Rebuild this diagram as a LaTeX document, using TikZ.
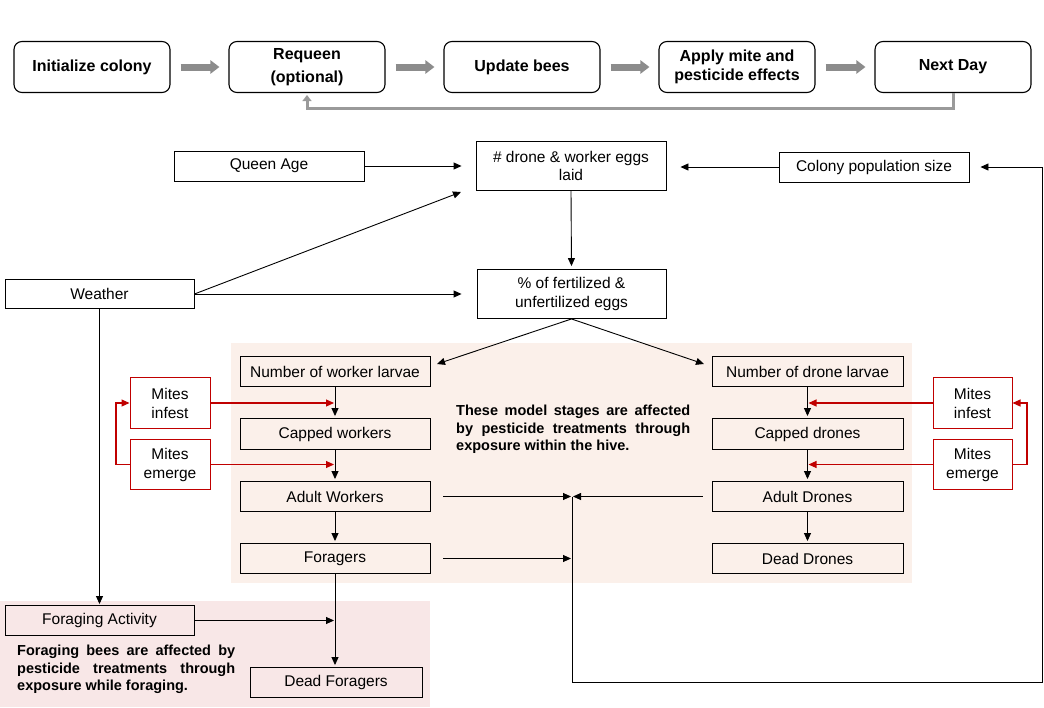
\documentclass[tikz,border=0pt]{standalone}
\usepackage{fontspec}
\setmainfont{Liberation Sans}
\usetikzlibrary{arrows.meta}

\definecolor{hivebg}{HTML}{FBF0EA}
\definecolor{forbg}{HTML}{F8E7E7}
\definecolor{mitered}{HTML}{C00000}
\definecolor{flowgray}{HTML}{8C8C8C}
\definecolor{loopgray}{HTML}{9A9A9A}

\tikzset{
  stepbox/.style={draw, rounded corners=8pt, line width=1.1pt, minimum width=156pt,
    minimum height=51pt, inner sep=0pt, align=center,
    font=\fontsize{16}{18.5}\selectfont\bfseries},
  varbox/.style={draw, line width=0.9pt, inner sep=0pt, align=center,
    minimum width=190pt, minimum height=30pt, font=\fontsize{15.5}{18.5}\selectfont},
  mitebox/.style={varbox, draw=mitered, line width=1pt, minimum width=80pt,
    minimum height=50pt, font=\fontsize{15.5}{19}\selectfont},
  note/.style={inner sep=0pt, align=justify, anchor=north west,
    font=\fontsize{14.5}{17.5}\selectfont\bfseries},
  link/.style={-{Triangle[length=8pt,width=7pt]}, line width=0.9pt},
  redlink/.style={link, draw=mitered, line width=1.1pt},
  bigarrow/.style={draw=flowgray, line width=7pt, -{Triangle[length=9pt,width=13pt]},
    shorten <=10pt, shorten >=9pt},
  loopline/.style={draw=loopgray, line width=3pt, -{Triangle[length=6pt,width=9pt]}}
}

\begin{document}
\begin{tikzpicture}[x=1pt,y=-1pt]
  \fill[white] (0,0) rectangle (1044,707);
  \useasboundingbox (0,0) rectangle (1044,707);

  % shaded zones: in-hive exposure and foraging exposure
  \fill[hivebg] (231,343) rectangle (912,583);
  \fill[forbg] (0,601) rectangle (430,707);

  % daily simulation loop
  \node[stepbox] (init) at (92,67) {Initialize colony};
  \node[stepbox, font=\fontsize{16}{22.5}\selectfont\bfseries] (requeen) at (307,67) {Requeen\\(optional)};
  \node[stepbox] (update) at (522,67) {Update bees};
  \node[stepbox] (apply) at (737,67) {Apply mite and\\pesticide effects};
  \node[stepbox] (next) at (953,67) {Next Day};

  \draw[bigarrow] (init.east) -- (requeen.west);
  \draw[bigarrow] (requeen.east) -- (update.west);
  \draw[bigarrow] (update.east) -- (apply.west);
  \draw[bigarrow] (apply.east) -- (next.west);
  \coordinate (dayback) at (953,108);
  \draw[loopline, shorten >=2pt] (next.south) -- (dayback) -| (requeen.south);

  % egg laying inputs
  \node[varbox] (queen) at (269,166) {Queen Age};
  \node[varbox, minimum height=49pt] (eggs) at (571,166) {\# drone \& worker eggs\\laid};
  \node[varbox] (colony) at (874,167) {Colony population size};
  \node[varbox, minimum width=189pt, minimum height=29pt] (weather) at (99.5,294) {Weather};
  \node[varbox, minimum width=189pt, minimum height=49pt] (fert) at (571.5,294) {\% of fertilized \&\\unfertilized eggs};

  \coordinate (weggs) at (461,192);
  \coordinate (wltip) at (437,364);
  \coordinate (dltip) at (704,364);
  \draw[link, shorten >=14pt] (queen.east) -- (eggs.west);
  \draw[link, shorten >=14pt] (colony.west) -- (eggs.east |- colony.west);
  \draw[link] (weather.east) -- (weggs);
  \draw[link, shorten >=15pt] (weather.east) -- (fert.west |- weather.east);
  \draw[link, shorten >=3pt] (eggs.south) -- (fert.north);
  \draw[link] (fert.south) -- (wltip);
  \draw[link] (fert.south) -- (dltip);

  % worker brood column
  \node[varbox] (wl) at (335,371.5) {Number of worker larvae};
  \node[varbox, minimum height=31pt] (cw) at (335,434) {Capped workers};
  \node[varbox] (aw) at (335,496.5) {Adult Workers};
  \node[varbox] (forg) at (335,558.5) {Foragers};

  % drone brood column
  \node[varbox, minimum width=191pt] (dl) at (807.5,371.5) {Number of drone larvae};
  \node[varbox, minimum width=191pt, minimum height=31pt] (cd) at (807.5,434) {Capped drones};
  \node[varbox, minimum width=191pt] (ad) at (807.5,496.5) {Adult Drones};
  \node[varbox, minimum width=191pt] (dd) at (807.5,558.5) {Dead Drones};

  \draw[link, shorten >=2pt] (wl.south) -- (cw.north);
  \draw[link, shorten >=2pt] (cw.south) -- (aw.north);
  \draw[link, shorten >=2pt] (aw.south) -- (forg.north);
  \draw[link, shorten >=2pt] (dl.south) -- (cd.north);
  \draw[link, shorten >=2pt] (cd.south) -- (ad.north);
  \draw[link, shorten >=2pt] (ad.south) -- (dd.north);

  % varroa mites
  \node[mitebox, minimum height=51pt] (mil) at (170,403) {Mites\\infest};
  \node[mitebox] (mel) at (170,464.5) {Mites\\emerge};
  \node[mitebox, minimum width=79pt, minimum height=51pt] (mir) at (972.5,403) {Mites\\infest};
  \node[mitebox, minimum width=79pt] (mer) at (972.5,464.5) {Mites\\emerge};

  \coordinate (lloop) at (116,464.5);
  \coordinate (rloop) at (1027,464.5);
  \draw[redlink, shorten >=1pt] (mil.east) -- (wl.south |- mil.east);
  \draw[redlink, shorten >=1pt] (mel.east) -- (cw.south |- mel.east);
  \draw[redlink] (mel.west) -- (lloop) |- (mil.west);
  \draw[redlink, shorten >=1pt] (mir.west) -- (dl.south |- mir.west);
  \draw[redlink, shorten >=1pt] (mer.west) -- (cd.south |- mer.west);
  \draw[redlink] (mer.east) -- (rloop) |- (mir.east);

  \node[note, text width=234pt] (hivenote) at (456,405)
    {These model stages are affected\linebreak by pesticide treatments through\linebreak exposure within the hive.};

  % adult bees feed back into colony size
  \coordinate (join) at (572,496.5);
  \coordinate (loopbr) at (1042,682);
  \draw[link, shorten <=13pt, shorten >=1pt] (aw.east) -- (join);
  \draw[link, shorten <=9pt, shorten >=1pt] (ad.west) -- (join);
  \draw[link, shorten <=13pt, shorten >=1pt] (forg.east) -- (join |- forg.east);
  \draw[link, shorten >=11pt] (join) |- (loopbr) |- (colony.east);

  % foraging
  \node[varbox, minimum width=189pt] (fa) at (99.5,620.5) {Foraging Activity};
  \node[varbox, minimum width=172pt] (df) at (336,682.5) {Dead Foragers};
  \draw[link, shorten >=1pt] (weather.south) -- (fa.north);
  \draw[link, shorten >=2pt] (forg.south) -- (df.north -| forg.south);
  \draw[link, shorten >=1pt] (fa.east) -- (forg.south |- fa.east);

  \node[note, text width=218pt] (fornote) at (17,645)
    {Foraging bees are affected by\linebreak pesticide treatments through\linebreak exposure while foraging.};
\end{tikzpicture}
\end{document}
